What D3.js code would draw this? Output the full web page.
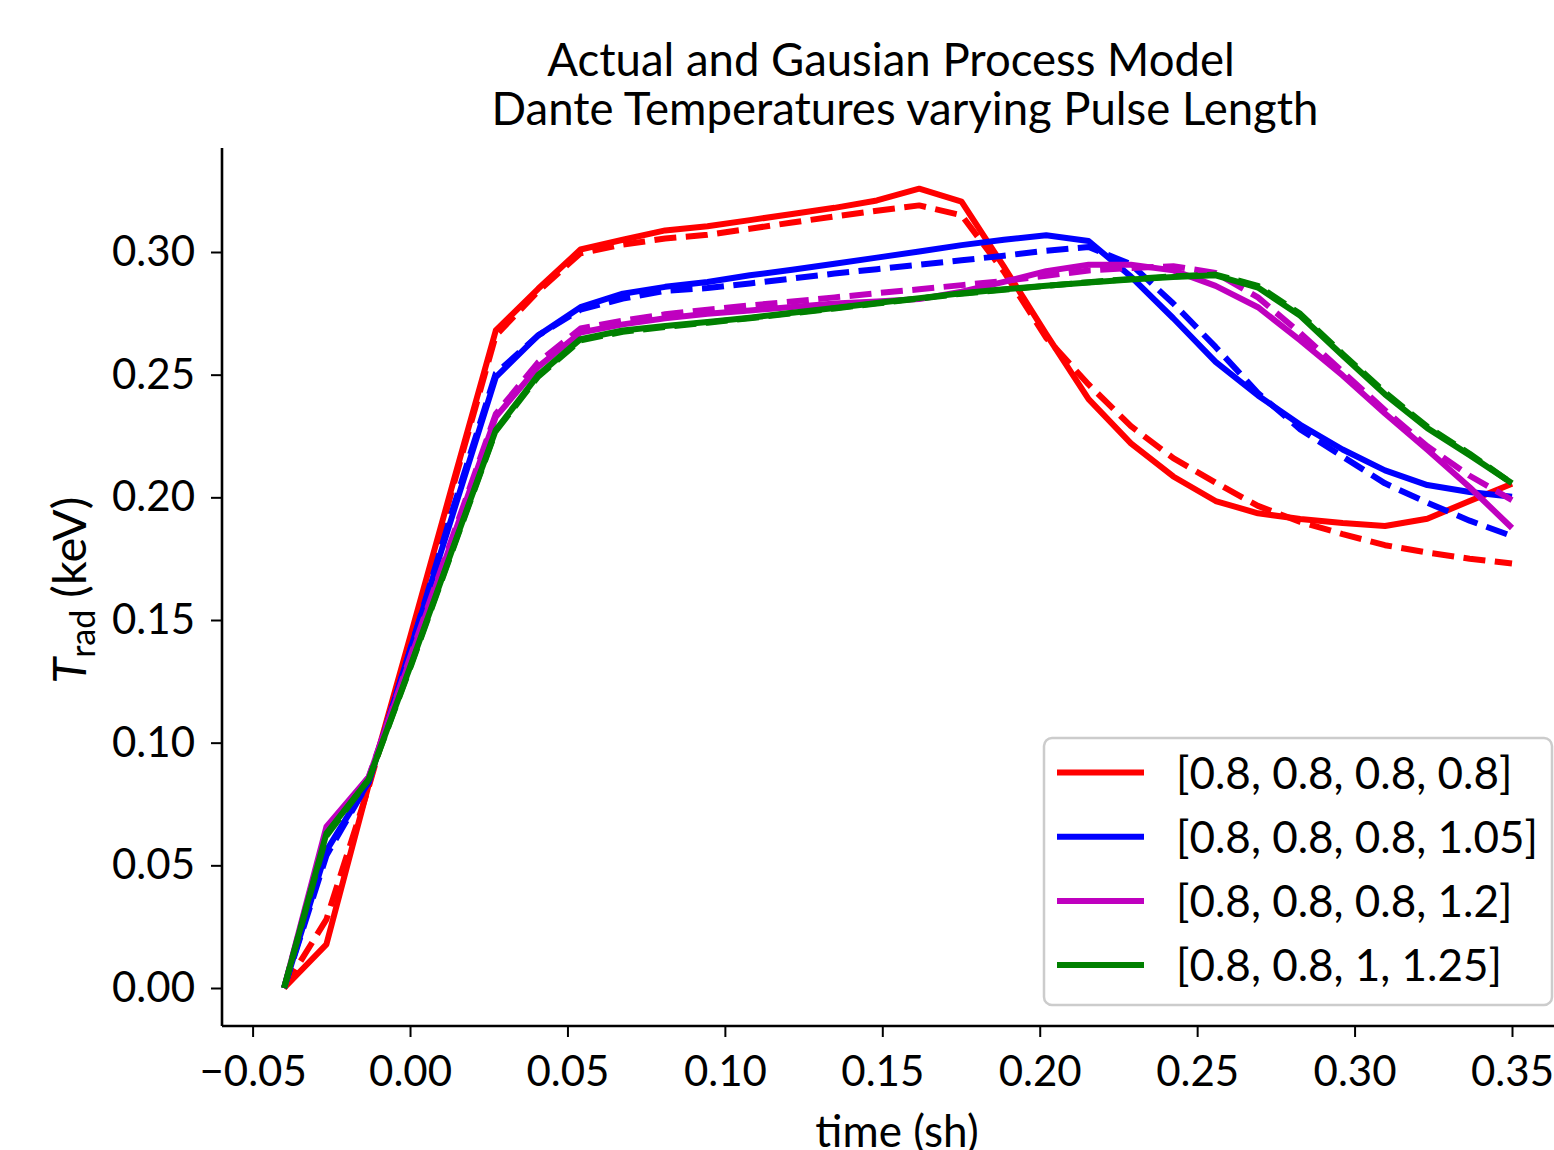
<!DOCTYPE html>
<html>
<head>
<meta charset="utf-8">
<script src="https://cdn.jsdelivr.net/npm/d3@7"></script>
<style>
  html, body { margin: 0; padding: 0; background: #fff; }
  svg { display: block; font-family: Lato, "Open Sans", sans-serif; }
</style>
</head>
<body>
<svg id="chart" width="1554" height="1150"></svg>
<script>
// Sample times (sh), 30 equally spaced points from -0.04 to 0.35
const times = [-0.04, -0.026552, -0.013103, 0.000345, 0.013793, 0.027241, 0.040690, 0.054138,
  0.067586, 0.081034, 0.094483, 0.107931, 0.121379, 0.134828, 0.148276, 0.161724, 0.175172,
  0.188621, 0.202069, 0.215517, 0.228966, 0.242414, 0.255862, 0.269310, 0.282759, 0.296207,
  0.309655, 0.323103, 0.336552, 0.35];

// Pulse-length multipliers for each case (legend labels)
const labels = ["[0.8, 0.8, 0.8, 0.8]", "[0.8, 0.8, 0.8, 1.05]", "[0.8, 0.8, 0.8, 1.2]", "[0.8, 0.8, 1, 1.25]"];
const colors = ["#ff0000", "#0000ff", "#bf00bf", "#008000"];

// Actual Dante radiation temperatures (keV)
const redActual = [0, 0.0178, 0.083, 0.1445, 0.2065, 0.268, 0.285, 0.3010, 0.305, 0.3088, 0.3105, 0.313, 0.3155, 0.318, 0.321, 0.3258, 0.3205, 0.294, 0.2665, 0.240, 0.222, 0.2085, 0.1985, 0.1935, 0.1912, 0.1895, 0.1883, 0.1913, 0.1985, 0.2055];
const blueActual = [0, 0.056, 0.084, 0.139, 0.194, 0.249, 0.266, 0.2775, 0.283, 0.2858, 0.2878, 0.2905, 0.2928, 0.2952, 0.2977, 0.3002, 0.3028, 0.305, 0.3068, 0.3045, 0.290, 0.273, 0.2552, 0.2415, 0.2296, 0.2195, 0.211, 0.205, 0.2022, 0.2002];
const purpleActual = [0, 0.0657, 0.086, 0.135, 0.184, 0.2328, 0.2532, 0.2672, 0.2705, 0.273, 0.2748, 0.2762, 0.2776, 0.279, 0.2798, 0.2808, 0.2838, 0.2878, 0.2922, 0.2948, 0.2948, 0.2925, 0.2862, 0.2775, 0.264, 0.2497, 0.2342, 0.2194, 0.2041, 0.1875];
const greenActual = [0, 0.063, 0.085, 0.132, 0.180, 0.2274, 0.2498, 0.2645, 0.268, 0.2698, 0.2715, 0.2732, 0.2752, 0.2772, 0.2792, 0.2812, 0.2832, 0.2848, 0.2862, 0.2876, 0.2888, 0.2898, 0.2905, 0.2855, 0.274, 0.2578, 0.242, 0.2282, 0.2172, 0.2057];

// Gaussian process model predictions (keV)
const redPred = [0, 0.028, 0.082, 0.142, 0.205, 0.266, 0.284, 0.2995, 0.303, 0.3055, 0.307, 0.3095, 0.312, 0.3145, 0.3168, 0.319, 0.315, 0.292, 0.265, 0.246, 0.229, 0.216, 0.206, 0.1965, 0.190, 0.185, 0.1805, 0.1775, 0.175, 0.173];
const bluePred = [0, 0.054, 0.084, 0.139, 0.196, 0.2505, 0.266, 0.2765, 0.281, 0.2842, 0.2853, 0.2872, 0.2892, 0.2912, 0.293, 0.2948, 0.2966, 0.2985, 0.3005, 0.302, 0.295, 0.279, 0.2613, 0.2425, 0.2277, 0.2166, 0.2057, 0.1978, 0.1905, 0.1842];
const purplePred = [0, 0.064, 0.086, 0.136, 0.185, 0.234, 0.255, 0.2688, 0.272, 0.2746, 0.2765, 0.2782, 0.2798, 0.2815, 0.2832, 0.2848, 0.2865, 0.2882, 0.2903, 0.2925, 0.2935, 0.2942, 0.2915, 0.2815, 0.267, 0.2512, 0.2355, 0.2208, 0.2088, 0.1989];
const greenPred = [0, 0.062, 0.085, 0.1315, 0.1795, 0.227, 0.2492, 0.264, 0.2675, 0.2694, 0.2712, 0.273, 0.275, 0.277, 0.279, 0.281, 0.283, 0.2846, 0.2862, 0.2877, 0.289, 0.2901, 0.2908, 0.2862, 0.2748, 0.2585, 0.2428, 0.2288, 0.2178, 0.2057];

const xTicks = [-0.05, 0.00, 0.05, 0.10, 0.15, 0.20, 0.25, 0.30, 0.35];
const yTicks = [0.00, 0.05, 0.10, 0.15, 0.20, 0.25, 0.30];

const actualSeries = [redActual, blueActual, purpleActual, greenActual];
const predSeries = [redPred, bluePred, purplePred, greenPred];

const svg = d3.select("#chart");
const plot = { left: 222, top: 148, right: 1572, bottom: 1026 };

const x = d3.scaleLinear().domain([-0.05, 0.35]).range([252.6, 1512]);
const y = d3.scaleLinear().domain([0, 0.30]).range([988, 252]);

const fmt = d => (d < 0 ? "\u2212" : "") + Math.abs(d).toFixed(2);

// Clip region for the data lines
svg.append("defs").append("clipPath").attr("id", "plotClip")
  .append("rect")
  .attr("x", plot.left).attr("y", plot.top)
  .attr("width", plot.right - plot.left).attr("height", plot.bottom - plot.top);

const line = d3.line().x((d, i) => x(times[i])).y(d => y(d));
const lw = 6;

const lines = svg.append("g").attr("clip-path", "url(#plotClip)");
actualSeries.forEach((s, i) => {
  lines.append("path").datum(s)
    .attr("d", line)
    .attr("fill", "none")
    .attr("stroke", colors[i])
    .attr("stroke-width", lw)
    .attr("stroke-linejoin", "round")
    .attr("stroke-linecap", "butt");
  lines.append("path").datum(predSeries[i])
    .attr("d", line)
    .attr("fill", "none")
    .attr("stroke", colors[i])
    .attr("stroke-width", lw)
    .attr("stroke-dasharray", "22 9.5")
    .attr("stroke-linejoin", "round");
});

// Axes (left and bottom spines only)
const tickFont = 42;
const xAxis = svg.append("g")
  .attr("transform", `translate(0,${plot.bottom})`)
  .call(d3.axisBottom(x).tickValues(xTicks).tickFormat(fmt).tickSizeOuter(0).tickSize(11).tickPadding(19));
xAxis.select(".domain").attr("d", `M${plot.left},0H${plot.right}`).attr("stroke", "#000").attr("stroke-width", 2.6);
xAxis.selectAll(".tick line").attr("stroke", "#000").attr("stroke-width", 2);
xAxis.selectAll(".tick text").attr("font-size", tickFont).attr("fill", "#000").attr("font-family", "Lato");

const yAxis = svg.append("g")
  .attr("transform", `translate(${plot.left},0)`)
  .call(d3.axisLeft(y).tickValues(yTicks).tickFormat(fmt).tickSizeOuter(0).tickSize(11).tickPadding(16));
yAxis.select(".domain").attr("d", `M0,${plot.top}V${plot.bottom}`).attr("stroke", "#000").attr("stroke-width", 2.6);
yAxis.selectAll(".tick line").attr("stroke", "#000").attr("stroke-width", 2);
yAxis.selectAll(".tick text").attr("font-size", tickFont).attr("fill", "#000").attr("font-family", "Lato");

// Two-line title
const title = svg.append("text").attr("text-anchor", "middle").attr("font-size", 45.5);
title.append("tspan").attr("x", 891).attr("y", 76).text("Actual and Gausian Process Model");
title.append("tspan").attr("x", 905).attr("y", 125).text("Dante Temperatures varying Pulse Length");

// Axis labels
svg.append("text").attr("x", 897).attr("y", 1147).attr("text-anchor", "middle")
  .attr("font-size", 44).text("time (sh)");

const yl = svg.append("text")
  .attr("transform", "translate(86,590) rotate(-90)")
  .attr("text-anchor", "middle")
  .attr("font-size", 47);
yl.append("tspan").attr("font-style", "italic").text("T");
yl.append("tspan").attr("font-size", 34).attr("dy", 9).text("rad");
yl.append("tspan").attr("dy", -9).text(" (keV)");

// Legend
const lg = svg.append("g");
lg.append("rect")
  .attr("x", 1044).attr("y", 738).attr("width", 508).attr("height", 267)
  .attr("rx", 8).attr("ry", 8)
  .attr("fill", "#fff").attr("fill-opacity", 0.8)
  .attr("stroke", "#cccccc").attr("stroke-width", 2.5);
labels.forEach((lab, i) => {
  const cy = 772.5 + i * 64.2;
  lg.append("line")
    .attr("x1", 1057).attr("x2", 1144).attr("y1", cy).attr("y2", cy)
    .attr("stroke", colors[i]).attr("stroke-width", lw);
  lg.append("text")
    .attr("x", 1176).attr("y", cy + 16)
    .attr("font-size", 44).text(lab);
});
</script>
</body>
</html>
